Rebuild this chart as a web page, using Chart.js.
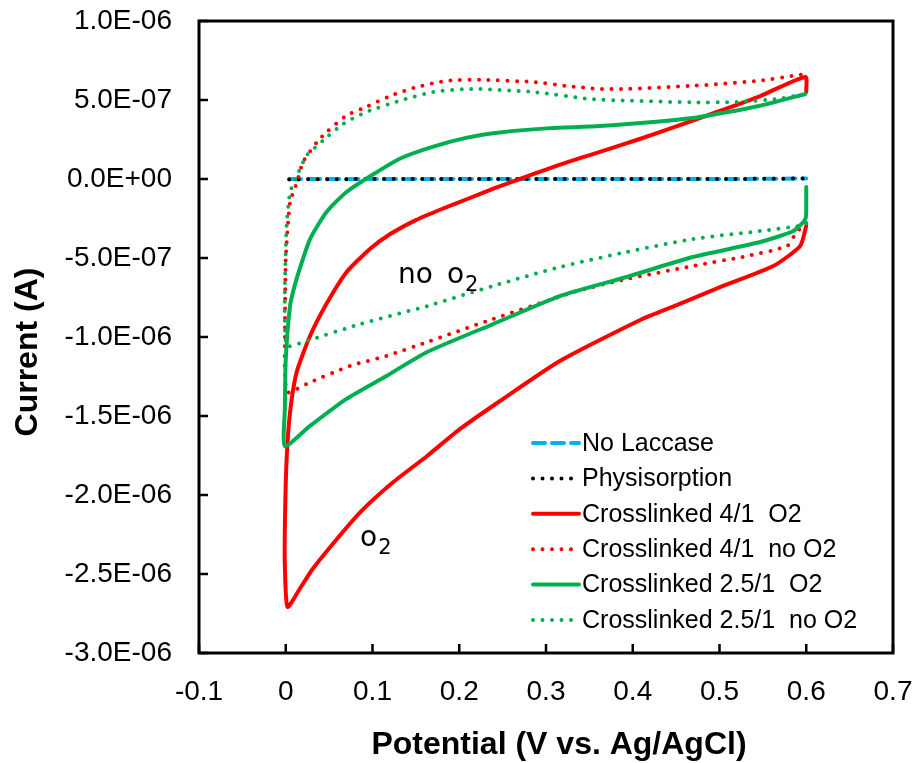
<!DOCTYPE html>
<html>
<head>
<meta charset="utf-8">
<script src="https://cdn.jsdelivr.net/npm/chart.js@4.4.1/dist/chart.umd.min.js"></script>
<style>
  html, body { margin: 0; padding: 0; background: #fff; }
  canvas { display: block; }
</style>
</head>
<body>
<canvas id="cvChart" width="914" height="763"></canvas>
<script>
// potentials in V, currents in microamps (converted to A below)
const noLaccaseV = [0.004, 0.1, 0.2, 0.3, 0.4, 0.5, 0.6];
const noLaccaseI = [0.0, 0.0, 0.0, 0.0, 0.0, 0.0, 0.003];

const physV = [0.004, 0.1, 0.2, 0.3, 0.4, 0.5, 0.6];
const physI = [-0.003, 0.0, 0.0, 0.0, 0.0, 0.0, 0.003];

const cl41O2V = [0.6, 0.593, 0.562, 0.5, 0.45, 0.411, 0.316, 0.247, 0.201, 0.163, 0.124, 0.086, 0.059, 0.031, 0.016, 0.002,
  -0.001, -0.001, 0.001, 0.005, 0.0126, 0.028, 0.047, 0.070, 0.097, 0.12, 0.15, 0.18, 0.21, 0.24, 0.27, 0.30, 0.324, 0.354, 0.408, 0.451, 0.497, 0.547, 0.599, 0.6];
const cl41O2I = [-0.297, -0.424, -0.551, -0.686, -0.80, -0.886, -1.152, -1.405, -1.582, -1.753, -1.918, -2.108, -2.278, -2.468, -2.595, -2.709,
  -2.45, -2.196, -1.772, -1.475, -1.222, -0.994, -0.79, -0.590, -0.443, -0.35, -0.26, -0.19, -0.125, -0.06, 0.0, 0.06, 0.105, 0.158, 0.253, 0.335, 0.424, 0.525, 0.646, 0.551];

const cl41NoO2V = [0.6, 0.589, 0.578, 0.532, 0.469, 0.393, 0.336, 0.308, 0.239, 0.163, 0.116, 0.074, 0.024, 0.002,
  -0.001, -0.001, 0.0, 0.005, 0.013, 0.020, 0.036, 0.047, 0.070, 0.093, 0.120, 0.151, 0.186, 0.224, 0.285, 0.324, 0.362, 0.393, 0.469, 0.547, 0.590, 0.6];
const cl41NoO2I = [-0.28, -0.335, -0.424, -0.487, -0.551, -0.633, -0.709, -0.759, -0.886, -1.032, -1.12, -1.183, -1.297, -1.35,
  -1.2, -1.01, -0.506, -0.146, -0.019, 0.108, 0.234, 0.297, 0.401, 0.456, 0.525, 0.582, 0.622, 0.628, 0.614, 0.589, 0.57, 0.570, 0.59, 0.622, 0.658, 0.66];

const cl251O2V = [0.6, 0.6, 0.599, 0.585, 0.547, 0.469, 0.393, 0.316, 0.239, 0.163, 0.116, 0.070, 0.028, -0.001,
  -0.001, 0.0, 0.005, 0.01, 0.016, 0.028, 0.047, 0.070, 0.101, 0.132, 0.170, 0.209, 0.247, 0.305, 0.362, 0.469, 0.547, 0.599];
const cl251O2I = [-0.051, -0.15, -0.253, -0.329, -0.399, -0.494, -0.62, -0.741, -0.918, -1.095, -1.247, -1.392, -1.563, -1.69,
  -1.45, -1.14, -0.80, -0.68, -0.570, -0.38, -0.209, -0.082, 0.030, 0.130, 0.205, 0.262, 0.295, 0.322, 0.335, 0.386, 0.464, 0.538];

const cl251NoO2V = [0.6, 0.593, 0.547, 0.469, 0.393, 0.316, 0.239, 0.163, 0.086, 0.02, 0.001,
  -0.001, 0.001, 0.005, 0.013, 0.024, 0.043, 0.066, 0.093, 0.132, 0.170, 0.214, 0.285, 0.351, 0.393, 0.469, 0.520, 0.566, 0.593, 0.6];
const cl251NoO2I = [-0.28, -0.297, -0.329, -0.380, -0.462, -0.557, -0.677, -0.804, -0.918, -1.032, -1.055,
  -0.717, -0.296, -0.084, 0.021, 0.148, 0.243, 0.348, 0.424, 0.496, 0.551, 0.570, 0.551, 0.506, 0.496, 0.485, 0.487, 0.506, 0.532, 0.535];

const seriesNames = ['No Laccase', 'Physisorption', 'Crosslinked 4/1  O2', 'Crosslinked 4/1  no O2',
  'Crosslinked 2.5/1  O2', 'Crosslinked 2.5/1  no O2'];

const xTitle = 'Potential (V vs. Ag/AgCl)';
const yTitle = 'Current (A)';

const xTickValues = [-0.1, 0, 0.1, 0.2, 0.3, 0.4, 0.5, 0.6, 0.7];
const xTickLabels = ['-0.1', '0', '0.1', '0.2', '0.3', '0.4', '0.5', '0.6', '0.7'];
const yTickValues = [-3.0e-6, -2.5e-6, -2.0e-6, -1.5e-6, -1.0e-6, -5.0e-7, 0, 5.0e-7, 1.0e-6];
const yTickLabels = ['-3.0E-06', '-2.5E-06', '-2.0E-06', '-1.5E-06', '-1.0E-06', '-5.0E-07', '0.0E+00', '5.0E-07', '1.0E-06'];

// in-plot text labels: [base, subscript, potential V, current uA]
const plotNotes = [
  ['no\u2002o', '2', 0.1294, -0.658],
  ['o', '2', 0.0856, -2.32]
];

const FONT = '"Liberation Sans", Arial, sans-serif';

function toPoints(v, i) {
  return v.map((x, k) => ({ x: x, y: i[k] * 1e-6 }));
}

const dotted = [0, 9.5];

const datasets = [
  { label: seriesNames[0], data: toPoints(noLaccaseV, noLaccaseI), borderColor: '#00B0F0', borderDash: [12, 7], borderCapStyle: 'round' },
  { label: seriesNames[1], data: toPoints(physV, physI), borderColor: '#000000', borderDash: dotted, borderCapStyle: 'round' },
  { label: seriesNames[2], data: toPoints(cl41O2V, cl41O2I), borderColor: '#FF0000', borderDash: [], borderCapStyle: 'round' },
  { label: seriesNames[3], data: toPoints(cl41NoO2V, cl41NoO2I), borderColor: '#FF0000', borderDash: dotted, borderCapStyle: 'round' },
  { label: seriesNames[4], data: toPoints(cl251O2V, cl251O2I), borderColor: '#00B050', borderDash: [], borderCapStyle: 'round' },
  { label: seriesNames[5], data: toPoints(cl251NoO2V, cl251NoO2I), borderColor: '#00B050', borderDash: dotted, borderCapStyle: 'round' }
].map((d, k, all) => Object.assign(d, {
  showLine: true,
  borderWidth: 4,
  borderJoinStyle: 'round',
  pointRadius: 0,
  fill: false,
  tension: 0.2,
  order: all.length - k   // later series on top, like the original
}));

const decorations = {
  id: 'decorations',
  afterDatasetsDraw(chart) {
    const { ctx, chartArea: a, scales: { x, y } } = chart;
    ctx.save();

    // frame and inward ticks
    ctx.setLineDash([]);
    ctx.strokeStyle = '#000';
    ctx.lineWidth = 3;
    ctx.strokeRect(a.left, a.top, a.right - a.left, a.bottom - a.top);
    ctx.lineWidth = 2.5;
    ctx.beginPath();
    xTickValues.forEach(v => {
      const px = x.getPixelForValue(v);
      ctx.moveTo(px, a.bottom);
      ctx.lineTo(px, a.bottom - 9);
    });
    yTickValues.forEach(v => {
      const py = y.getPixelForValue(v);
      ctx.moveTo(a.left, py);
      ctx.lineTo(a.left + 9, py);
    });
    ctx.stroke();

    // axis titles (sit a little off-centre in the original)
    ctx.fillStyle = '#000';
    ctx.font = 'bold 32px ' + FONT;
    ctx.textAlign = 'center';
    ctx.textBaseline = 'middle';
    ctx.fillText(xTitle, (a.left + a.right) / 2 + 13, 745);
    ctx.save();
    ctx.translate(28, (a.top + a.bottom) / 2 + 15);
    ctx.rotate(-Math.PI / 2);
    ctx.fillText(yTitle, 0, 0);
    ctx.restore();

    // notes inside the plot
    ctx.textBaseline = 'alphabetic';
    ctx.textAlign = 'left';
    plotNotes.forEach(n => {
      const px = x.getPixelForValue(n[2]);
      const py = y.getPixelForValue(n[3] * 1e-6);
      ctx.font = '28px "DejaVu Sans", sans-serif';
      ctx.fillText(n[0], px, py);
      const w = ctx.measureText(n[0]).width;
      ctx.font = '21px "DejaVu Sans", sans-serif';
      ctx.fillText(n[1], px + w + 1, py + 8);
    });

    // legend, bottom right inside the plot
    const lx = a.right - 360;
    const ly = a.bottom - 210;
    ctx.font = '25px ' + FONT;
    ctx.textBaseline = 'middle';
    chart.data.datasets.forEach((d, k) => {
      const yy = ly + k * 35.4;
      ctx.strokeStyle = d.borderColor;
      ctx.lineWidth = d.borderWidth;
      ctx.lineCap = d.borderCapStyle;
      ctx.setLineDash(d.borderDash);
      ctx.beginPath();
      ctx.moveTo(lx, yy);
      ctx.lineTo(lx + 46, yy);
      ctx.stroke();
      ctx.setLineDash([]);
      ctx.fillStyle = '#000';
      ctx.fillText(d.label, lx + 49, yy + 1);
    });

    ctx.restore();
  }
};

new Chart(document.getElementById('cvChart'), {
  type: 'scatter',
  data: { datasets: datasets },
  options: {
    responsive: false,
    animation: false,
    layout: { padding: { top: 21, right: 21, left: 0, bottom: 0 } },
    plugins: {
      legend: { display: false },
      tooltip: { enabled: false }
    },
    scales: {
      x: {
        type: 'linear',
        min: -0.1,
        max: 0.7,
        afterBuildTicks: s => { s.ticks = xTickValues.map(v => ({ value: v })); },
        afterFit: s => { s.height = 110; s.paddingLeft = 0; s.paddingRight = 0; },
        grid: { display: false, drawTicks: false },
        border: { display: false },
        ticks: {
          padding: 22,
          color: '#000',
          maxRotation: 0,
          autoSkip: false,
          font: { family: FONT, size: 28 },
          callback: (v, k) => xTickLabels[k]
        },
        title: { display: false }
      },
      y: {
        type: 'linear',
        min: -3e-6,
        max: 1e-6,
        afterBuildTicks: s => { s.ticks = yTickValues.map(v => ({ value: v })); },
        afterFit: s => { s.width = 199; s.paddingTop = 0; s.paddingBottom = 0; },
        grid: { display: false, drawTicks: false },
        border: { display: false },
        ticks: {
          padding: 27,
          color: '#000',
          autoSkip: false,
          font: { family: FONT, size: 28 },
          callback: (v, k) => yTickLabels[k]
        },
        title: { display: false }
      }
    }
  },
  plugins: [decorations]
});
</script>
</body>
</html>
